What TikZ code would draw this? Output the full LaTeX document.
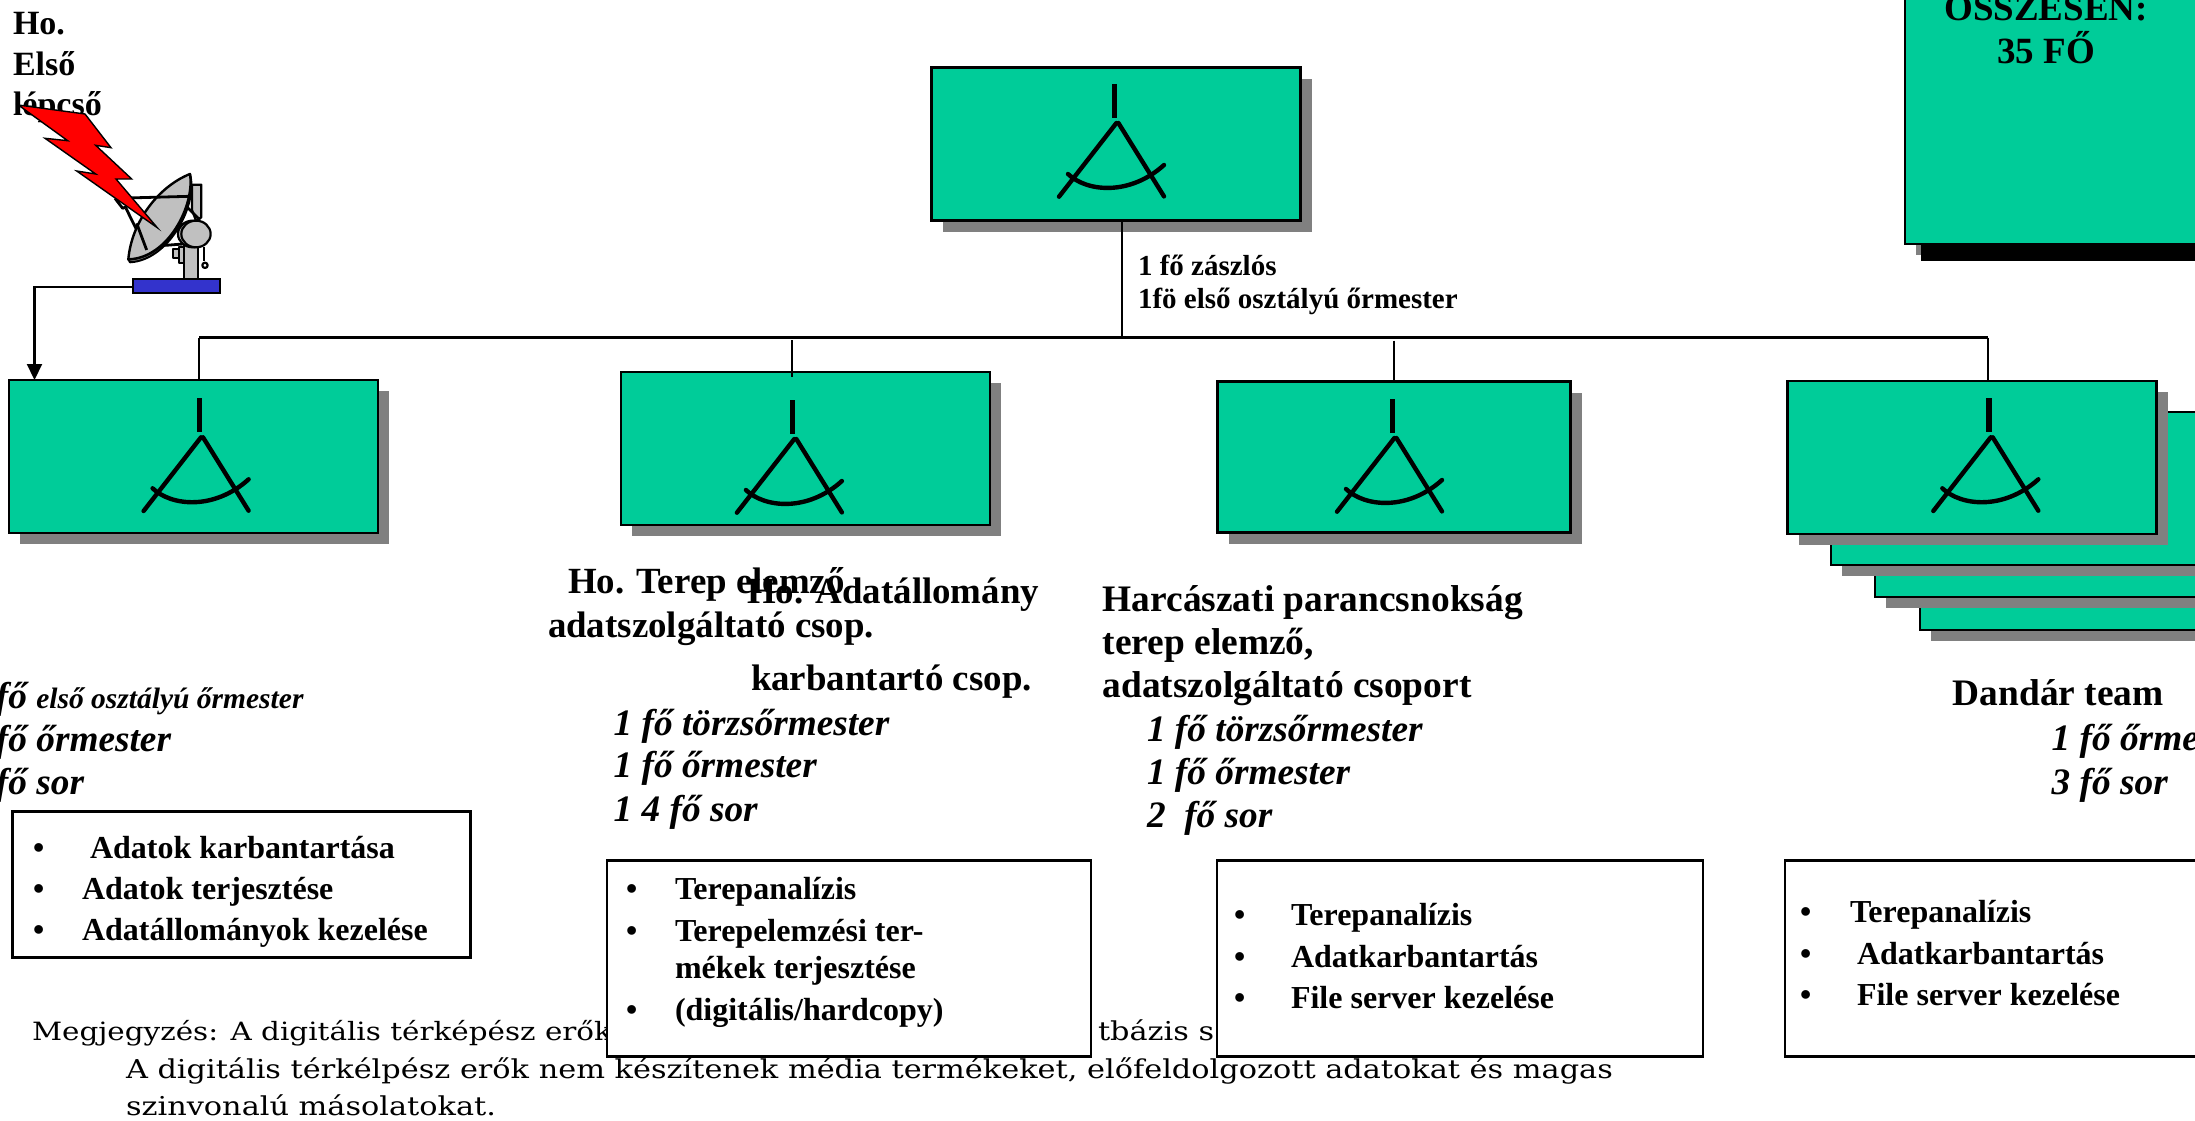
\documentclass[tikz,border=0pt]{standalone}
\usepackage{fontspec}
\setmainfont{Liberation Serif}
\newfontfamily\notefont[FakeStretch=1.167]{DejaVu Serif}
\usetikzlibrary{shadows,arrows.meta}
\definecolor{teal}{HTML}{00CC99}
\definecolor{shade}{HTML}{808080}
\definecolor{dishgray}{HTML}{C0C0C0}
\definecolor{baseblue}{HTML}{3333CC}
\definecolor{bolt}{HTML}{FF0000}
\tikzset{
  gbox/.style={rectangle,anchor=north west,inner sep=0pt,outer sep=0pt,draw=black,line width=2.7pt,fill=teal,
    copy shadow={shadow xshift=11pt,shadow yshift=-11pt,draw=none,fill=shade},
    minimum width=369pt,minimum height=153pt},
  wbox/.style={rectangle,anchor=north west,inner sep=0pt,outer sep=0pt,draw=black,line width=2.7pt,fill=white},
  wire/.style={draw=black,line width=2.2pt},
  tx/.style={anchor=base west,inner sep=0pt,outer sep=0pt,text=black},
  hb/.style={tx,font=\fontsize{37.4}{40}\selectfont\bfseries},
  hc/.style={tx,font=\fontsize{36.9}{40}\selectfont\bfseries},
  hi/.style={tx,font=\fontsize{37.3}{40}\selectfont\bfseries\itshape},
  li/.style={tx,font=\fontsize{32}{36}\selectfont\bfseries},
  sm/.style={tx,font=\fontsize{29}{32}\selectfont\bfseries},
  cn/.style={anchor=base,inner sep=0pt,outer sep=0pt,font=\fontsize{37}{42}\selectfont\bfseries},
  nt/.style={tx,font=\fontsize{26}{30}\notefont},
  nf/.style={tx,font=\fontsize{25.2}{30}\notefont},
  ul/.style={tx,font=\fontsize{34}{40}\selectfont\bfseries},
  stemline/.style={line width=5.3pt,draw=black},
  legline/.style={line width=4.4pt,draw=black,line cap=round},
}
\newcommand\compass[2]{%
  \begin{scope}[shift={(#1,#2)}]
    \draw[stemline] (0,0) -- (0,34);
    \draw[legline] (1.7,39) -- (-55.7,112.7);
    \draw[legline] (3.7,39) -- (49.3,112.4);
    \draw[legline] (-46.7,90) .. controls (-28,108) and (15,112) .. (49.3,81);
  \end{scope}}
\begin{document}
\begin{tikzpicture}[x=1pt,y=-1pt]
\useasboundingbox (0,0) rectangle (2195,1121);
% note text sits under the white boxes
\node[nf] (n1) at (32,1040) {Megjegyzés: A digitális térképész erők};
\node[nt] (n1b) at (1098,1040) {tbázis s};
\node[nt] (n2) at (126,1078) {A digitális térkélpész erők nem készítenek média termékeket, előfeldolgozott adatokat és magas};
\node[nt] (n3) at (126,1115) {szinvonalú másolatokat.};
% summary box
\node[gbox,copy shadow={shadow xshift=16pt,shadow yshift=-16.5pt,draw=none,fill=black},minimum width=345pt,minimum height=264pt] (sum) at (1905,-20) {};
\node[cn] (sum1) at (2046,21) {ÖSSZESEN:};
\node[cn] (sum2) at (2046,64) {35 FŐ};
% stacked boxes
\node[gbox] (s3) at (1920,477) {};
\node[gbox] (s2) at (1875,444) {};
\node[gbox] (s1) at (1831,412) {};
% main boxes
\node[gbox] (top) at (931.6,67.7) {};
\node[gbox] (b1) at (9,380) {};
\node[gbox] (b2) at (621,372) {};
\node[gbox,minimum width=353.3pt,minimum height=151pt] (b3) at (1217.5,381.5) {};
\node[gbox] (b4) at (1787.5,381) {};
% bus
\coordinate (busL) at (199,337.5);
\coordinate (busT) at (1121.6,337.5);
\coordinate (busR) at (1988,337.5);
\coordinate (st2a) at (792,340);
\coordinate (st2b) at (792,376.7);
\coordinate (st3a) at (1394,340.5);
\draw[wire] (busL) -- (busR);
\draw[wire] (busT) -- (busT |- top.south);
\draw[wire] (busL) -- (busL |- b1.north);
\draw[wire] (st2a) -- (st2b);
\draw[wire] (st3a) -- (st3a |- b3.north);
\draw[wire] (busR) -- (busR |- b4.north);
% symbols
\compass{1114.7}{84}
\compass{199.3}{398.3}
\compass{792.6}{400}
\compass{1392.7}{399}
\compass{1989}{398.3}
% labels
\node[sm] (z1) at (1138,275) {1 fő zászlós};
\node[sm] (z2) at (1138,308) {1fö első osztályú őrmester};
\node[ul] (u1) at (13,35) {Ho.};
\node[ul] (u2) at (13,76) {Első};
\node[ul] (u3) at (13,116) {lépcső};
% left team
\node[hi] (a1) at (-32,708) {1 fő {\fontsize{29.5}{32}\selectfont első osztályú őrmester}};
\node[hi] (a2) at (-32,751) {1 fő őrmester};
\node[hi] (a3) at (-32,794) {1 fő sor};
% second
\node[hc] (c1) at (568,593) {Ho. Terep elemző};
\node[hc] (c2) at (548,637) {adatszolgáltató csop.};
\node[hc] (c3) at (747,603) {Ho. Adatállomány};
\node[hc] (c4) at (751,690) {karbantartó csop.};
\node[hi] (c5) at (613.7,735) {1 fő törzsőrmester};
\node[hi] (c6) at (613.7,777) {1 fő őrmester};
\node[hi] (c7) at (613.7,821) {1 4 fő sor};
% third
\node[hb] (d1) at (1102.7,611.5) {Harcászati parancsnokság};
\node[hb] (d2) at (1102.7,654) {terep elemző,};
\node[hb] (d3) at (1102.7,697.5) {adatszolgáltató csoport};
\node[hi] (d4) at (1147,741.5) {1 fő törzsőrmester};
\node[hi] (d5) at (1147,784) {1 fő őrmester};
\node[hi] (d6) at (1147,827.5) {2 \ fő sor};
% fourth
\node[hb] (e1) at (1952.7,705) {Dandár team};
\node[hi] (e2) at (2051.7,750.7) {1 fő őrmester};
\node[hi] (e3) at (2051.7,794) {3 fő sor};
% task boxes
\node[wbox,minimum width=458pt,minimum height=146pt] (t1) at (12.7,811.7) {};
\node[wbox,minimum width=484pt,minimum height=196pt] (t2) at (607,860.7) {};
\node[wbox,minimum width=486pt,minimum height=196pt] (t3) at (1217,860.7) {};
\node[wbox,minimum width=465pt,minimum height=196pt] (t4) at (1785,860.7) {};
\foreach \nm/\bx/\by in {p1/33/858,p2/33/899,p3/33/940,p4/626/899,p5/626/941,p6/626/1020,p7/1234/925,p8/1234/967,p9/1234/1008,p10/1800/922,p11/1800/964,p12/1800/1005}
  \node[li] (\nm) at (\bx,\by) {•};
\node[li] (q1) at (90,858) {Adatok karbantartása};
\node[li] (q2) at (82,899) {Adatok terjesztése};
\node[li] (q3) at (82,940) {Adatállományok kezelése};
\node[li] (q4) at (675,899) {Terepanalízis};
\node[li] (q5) at (675,941) {Terepelemzési ter-};
\node[li] (q6) at (675,978) {mékek terjesztése};
\node[li] (q7) at (675,1020) {(digitális/hardcopy)};
\node[li] (q8) at (1291,925) {Terepanalízis};
\node[li] (q9) at (1291,967) {Adatkarbantartás};
\node[li] (q10) at (1291,1008) {File server kezelése};
\node[li] (q11) at (1850,922) {Terepanalízis};
\node[li] (q12) at (1857,964) {Adatkarbantartás};
\node[li] (q13) at (1857,1005) {File server kezelése};
% dish
\begin{scope}[shift={(90,90)},x=0.3333pt,y=-0.3333pt,line join=round]
  \filldraw[fill=dishgray,draw=black,line width=2.2pt] (306,284) -- (334,284) -- (334,382) -- (318,392) -- (306,360) -- cycle;
  \draw[black,line width=2.8pt] (75,325) -- (98,355) -- (110,350);
  \draw[black,line width=2.8pt] (108,355) -- (170,480);
  \draw[black,line width=2.8pt] (280,340) -- (330,390);
  \draw[black,line width=2.8pt] (200,468) -- (280,462);
  \filldraw[fill=dishgray,draw=black,line width=2.2pt] (248,478) rectangle (276,505);
  \filldraw[fill=dishgray,draw=black,line width=2.2pt] (268,470) rectangle (282,518);
  \draw[black,line width=2.2pt] (343,470) -- (343,512);
  \draw[black,line width=2.2pt] (345,526) circle (8);
  \filldraw[fill=dishgray,draw=black,line width=2.2pt] (283,458) rectangle (325,566);
  \filldraw[fill=dishgray,draw=black,line width=2.2pt] (308,432) ellipse (44 and 40);
  \filldraw[fill=dishgray,draw=black,line width=2.2pt] (318,432) ellipse (44 and 40);
  \filldraw[fill=shade,draw=black,line width=2pt] (300,252) .. controls (325,340) and (240,510) .. (120,517) -- (115,508) .. controls (235,505) and (315,345) .. cycle;
  \filldraw[fill=dishgray,draw=black,line width=2.4pt] (300,252) .. controls (205,290) and (125,395) .. (115,508) .. controls (235,505) and (315,345) .. cycle;
  \draw[black,line width=2.8pt] (75,325) -- (298,319);
  \draw[black,line width=2.8pt] (140,400) -- (170,480);
\end{scope}
\node[rectangle,inner sep=0pt,outer sep=0pt,draw=black,line width=2.4pt,fill=baseblue,minimum width=87pt,minimum height=14.5pt] (base) at (176.7,286) {};
\coordinate (elbow) at (34.5,287);
\draw[wire,-{Triangle[length=16pt,width=15pt]}] (base.west |- elbow) -- (elbow) -- (elbow |- b1.north);
% lightning
\filldraw[fill=bolt,draw=black,line width=1.4pt,line join=miter] (18.3,105) -- (85,114) -- (111,147.7) -- (95.7,145.3) -- (131.7,179) -- (116,179) -- (157.3,227.7) -- (76.7,171) -- (95.7,174) -- (45,138.3) -- (67.7,140.7) -- cycle;
\end{tikzpicture}
\end{document}
